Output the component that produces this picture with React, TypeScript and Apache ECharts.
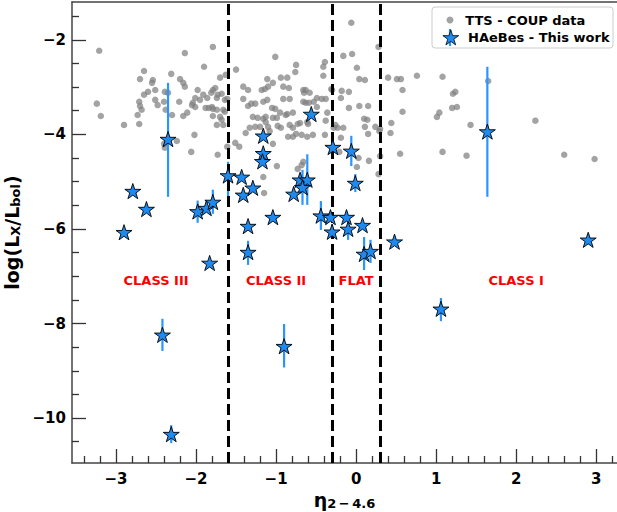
import React, { useEffect, useRef } from "react";
import * as echarts from "echarts";

const X_MIN = -3.55;
const X_MAX = 3.26;
const Y_MIN = -10.95;
const Y_MAX = -1.2;

const xMajorTicks = [-3, -2, -1, 0, 1, 2, 3];
const xMinorTicks = [-3.4, -3.2, -2.8, -2.6, -2.4, -2.2, -1.8, -1.6, -1.4, -1.2, -0.8, -0.6, -0.4, -0.2, 0.2, 0.4, 0.6, 0.8, 1.2, 1.4, 1.6, 1.8, 2.2, 2.4, 2.6, 2.8, 3.2];
const yMajorTicks = [-10, -8, -6, -4, -2];
const yMinorTicks = [-10.5, -9.5, -9, -8.5, -7.5, -7, -6.5, -5.5, -5, -4.5, -3.5, -3, -2.5, -1.5];

const classBoundaries = [-1.6, -0.3, 0.3];
const classNames = ["CLASS III", "CLASS II", "FLAT", "CLASS I"];
const classX = [-2.5, -1.0, 0.0, 2.0];
const classY = [-7.1, -7.1, -7.1, -7.1];

// TTS - COUP data (eta, log Lx/Lbol)
const ttsPoints: [number, number][] = [
  [-3.21, -2.23], [-3.24, -3.35], [-3.19, -3.61], [-2.90, -3.80], [-2.65, -2.66], [-2.70, -2.83], [-2.54, -2.85], [-2.55, -2.91],
  [-2.60, -3.10], [-2.65, -3.16], [-2.51, -3.06], [-2.71, -3.31], [-2.70, -3.40], [-2.51, -3.27], [-2.48, -3.38], [-2.68, -3.48],
  [-2.73, -3.59], [-2.71, -3.78], [-2.39, -3.10], [-2.35, -3.12], [-2.40, -3.31], [-2.38, -3.48], [-2.30, -3.59], [-2.31, -2.72],
  [-2.20, -2.83], [-2.16, -2.91], [-2.14, -2.99], [-2.21, -3.31], [-2.14, -2.28], [-1.98, -3.06], [-2.01, -3.42], [-2.05, -3.38],
  [-1.95, -3.27], [-1.91, -3.16], [-2.16, -3.61], [-2.02, -4.01], [-2.06, -4.37], [-2.39, -4.28], [-2.40, -4.20], [-2.24, -4.14],
  [-1.79, -2.15], [-1.90, -2.57], [-1.79, -3.06], [-1.76, -3.02], [-1.70, -2.80], [-1.73, -3.16], [-1.68, -3.14], [-1.86, -3.23],
  [-1.88, -3.44], [-1.84, -3.44], [-1.79, -3.46], [-1.74, -3.48], [-1.70, -3.63], [-1.68, -3.69], [-1.74, -3.80], [-1.73, -4.43],
  [-1.61, -4.26], [-1.61, -3.25], [-1.63, -2.74], [-1.50, -2.63], [-1.51, -4.18], [-1.46, -4.26], [-1.81, -3.12], [-2.01, -3.23],
  [-2.04, -3.33], [-1.74, -3.23], [-1.64, -3.27], [-2.11, -3.54], [-1.80, -3.42], [-1.66, -3.48], [-1.64, -3.52], [-1.79, -3.61],
  [-1.66, -3.80],
  [-1.41, -2.99], [-1.35, -3.06], [-1.41, -3.25], [-1.35, -3.40], [-1.31, -3.35], [-1.26, -3.35], [-1.38, -3.97], [-1.33, -3.86],
  [-1.29, -3.63], [-1.26, -3.84], [-1.23, -3.65], [-1.16, -3.67], [-1.13, -3.63], [-1.18, -3.06], [-1.14, -3.04], [-1.10, -2.99],
  [-1.16, -3.31], [-1.11, -3.27], [-1.01, -2.36], [-1.04, -2.91], [-1.11, -2.83], [-0.94, -2.80], [-0.86, -2.80], [-0.91, -2.99],
  [-0.84, -3.02], [-0.91, -3.25], [-0.83, -3.25], [-1.05, -3.44], [-1.01, -3.46], [-1.04, -3.65], [-0.99, -3.65], [-1.10, -3.84],
  [-1.08, -3.93], [-1.04, -4.20], [-0.99, -4.67], [-1.16, -4.90], [-1.15, -5.24], [-0.98, -3.82], [-0.94, -3.86], [-0.88, -3.59],
  [-0.79, -3.54], [-0.83, -3.80], [-0.79, -3.86], [-0.79, -4.05], [-0.75, -3.99], [-0.75, -2.53], [-0.76, -2.68], [-0.66, -3.06],
  [-0.63, -3.06], [-0.65, -3.12], [-0.66, -3.31], [-0.63, -3.33], [-0.61, -4.05], [-0.68, -4.01], [-0.66, -4.58], [-0.68, -4.65],
  [-0.61, -3.74], [-1.20, -3.84], [-1.13, -3.74], [-0.85, -4.05], [-0.95, -3.54], [-0.86, -3.57], [-0.73, -4.73], [-0.73, -3.78],
  [-0.58, -3.12], [-0.49, -3.23], [-0.53, -3.31], [-0.43, -3.25], [-0.38, -3.25], [-0.59, -3.33], [-0.49, -3.42], [-0.38, -3.71],
  [-0.28, -3.86], [-0.23, -3.86], [-0.16, -3.86], [-0.39, -4.01], [-0.54, -4.01], [-0.19, -4.07], [-0.21, -4.37], [-0.31, -3.04],
  [-0.60, -3.78], [-0.36, -3.54], [-0.70, -3.76], [-0.26, -3.80],
  [-0.06, -1.64], [0.28, -2.15], [-0.16, -2.34], [-0.05, -2.30], [-0.39, -2.47], [-0.41, -2.57], [0.01, -2.59], [-0.41, -2.76],
  [0.04, -2.83], [0.11, -2.85], [0.40, -2.80], [0.51, -2.83], [0.56, -2.83], [0.76, -2.76], [1.08, -2.78], [1.65, -2.87],
  [1.21, -3.14], [1.24, -3.10], [0.58, -3.06], [1.20, -3.44], [1.26, -3.42], [1.01, -3.63], [1.04, -3.54], [0.58, -3.52],
  [1.43, -3.80], [2.24, -3.71], [2.60, -4.43], [2.98, -4.52], [1.38, -4.45], [1.08, -4.37], [0.55, -4.41], [0.44, -3.76],
  [0.43, -3.97], [0.29, -3.93], [0.24, -3.84], [0.30, -4.46], [0.28, -4.84], [0.16, -4.56], [0.03, -4.50], [0.01, -4.69],
  [0.15, -3.99], [0.11, -3.84], [0.10, -3.67], [-0.09, -3.44], [0.04, -3.40], [0.15, -3.40], [-0.18, -3.08], [-0.09, -3.10],
  [-0.19, -3.23], [-0.30, -3.06], [0.30, -3.88], [0.14, -3.69],
];

// HAeBes - This work
const starX = [-2.35, -2.90, -2.79, -2.62, -1.98, -1.87, -1.79, -1.60, -1.43, -1.41, -1.29, -1.35, -1.35, -1.16, -1.16, -1.17, -1.04, -1.83, -2.42, -2.31, -0.90, -0.56, -0.29, -0.06, -0.01, -0.70, -0.61, -0.67, -0.78, -0.44, -0.32, -0.30, -0.12, -0.10, 0.08, 0.10, 0.18, 0.48, 1.06, 1.64, 2.90];
const starY = [-4.10, -6.07, -5.20, -5.58, -5.63, -5.56, -5.43, -4.87, -4.90, -5.28, -5.13, -5.94, -6.49, -4.03, -4.40, -4.57, -5.75, -6.72, -8.24, -10.34, -8.48, -3.57, -4.27, -4.35, -5.03, -4.96, -4.96, -5.12, -5.26, -5.72, -5.75, -6.06, -5.75, -6.00, -5.92, -6.53, -6.47, -6.27, -7.69, -3.94, -6.23];
const errLow: (number | null)[] = [-5.32, null, null, null, -5.87, null, -5.68, -5.32, null, null, null, null, -6.76, null, null, null, null, null, -8.58, -10.53, -8.93, null, -4.43, -4.67, -5.22, null, -5.49, -5.49, null, -6.02, null, -6.20, null, -6.23, null, -6.87, -6.72, null, -7.95, -5.32, -6.33];
const errHigh: (number | null)[] = [-2.91, null, null, null, -5.40, null, -5.17, -4.58, null, null, null, null, -6.25, null, null, null, null, null, -7.90, -10.15, -8.01, null, -4.12, -4.03, -4.84, null, -4.42, -4.75, null, -5.41, null, -5.90, null, -5.87, null, -6.17, -6.23, null, -7.46, -2.57, -6.12];

const STAR_PATH = "path://M0,-10L2.245,-3.09L9.511,-3.09L3.633,1.18L5.878,8.09L0,3.82L-5.878,8.09L-3.633,1.18L-9.511,-3.09L-2.245,-3.09Z";
const FONT = "DejaVu Sans";
const STAR_COLOR = "#1e8af0";
const ERR_COLOR = "#2a95ff";

const fmt = (v: number) => (v < 0 ? "\u2212" + Math.abs(v) : String(v));

export default function App() {
  const ref = useRef<HTMLDivElement>(null);
  useEffect(() => {
    if (!ref.current) return;
    const chart = echarts.init(ref.current, null, { renderer: "svg" });
    const errData = starX
      .map((x, i) => [x, errLow[i], errHigh[i]])
      .filter((d) => d[1] !== null && d[2] !== null);
    const starData = starX.map((x, i) => [x, starY[i]]);
    const classData = classX.map((x, i) => ({ value: [x, classY[i]], name: classNames[i] }));
    const axisLineStyle = { color: "#444", width: 1.5 };
    const tickStyle = { color: "#333", width: 1.3 };
    const nameRich = {
      a: { fontSize: 19, fontWeight: "bold", fontFamily: FONT, color: "#000", verticalAlign: "bottom", lineHeight: 22 },
      sub: { fontSize: 13, fontWeight: "bold", fontFamily: FONT, color: "#000", verticalAlign: "bottom", lineHeight: 16, padding: [6, 0, 0, 0] },
    };
    const legendText = { fontFamily: FONT, fontWeight: "bold", fontSize: 13, color: "#000" };
    const option: any = {
      animation: false,
      backgroundColor: "#fff",
      textStyle: { fontFamily: FONT },
      grid: { left: 72, top: 2, right: 0, bottom: 49, containLabel: false, outerBoundsMode: "none" },
      graphic: [
        {
          type: "rect",
          z: 50,
          shape: { x: 432, y: 7, width: 181, height: 41, r: 3 },
          style: { fill: "rgba(255,255,255,0.85)", stroke: "#cccccc", lineWidth: 1 },
        },
        {
          type: "line",
          z: 55,
          shape: { x1: 450, y1: 29, x2: 450, y2: 46 },
          style: { stroke: ERR_COLOR, lineWidth: 2.2 },
        },
      ],
      legend: [
        {
          data: ["TTS - COUP data"],
          left: 446.5,
          top: 13.5,
          padding: 0,
          itemWidth: 20.5,
          itemHeight: 7,
          z: 60,
          textStyle: legendText,
        },
        {
          data: [
            {
              name: "HAeBes - This work",
              itemStyle: { color: STAR_COLOR, borderColor: "#000", borderWidth: 0.8, opacity: 1 },
            },
          ],
          left: 442.5,
          top: 29.5,
          padding: 0,
          itemWidth: 24.5,
          itemHeight: 15,
          z: 60,
          textStyle: legendText,
        },
      ],
      xAxis: [
        {
          type: "value",
          min: X_MIN,
          max: X_MAX,
          position: "bottom",
          axisLine: { show: true, onZero: false, lineStyle: axisLineStyle },
          axisTick: { show: true, inside: true, length: 14, customValues: xMajorTicks, lineStyle: tickStyle },
          axisLabel: { customValues: xMajorTicks, formatter: fmt, fontSize: 15, fontWeight: "bold", color: "#000", margin: 8, fontFamily: FONT },
          splitLine: { show: false },
          name: "{a|\u03b7}{sub|2\u2009\u2212\u20094.6}",
          nameLocation: "middle",
          nameGap: 22,
          nameTextStyle: { rich: nameRich },
        },
        {
          type: "value",
          min: X_MIN,
          max: X_MAX,
          position: "bottom",
          axisLine: { show: false, onZero: false },
          axisTick: { show: true, inside: true, length: 7, customValues: xMinorTicks, lineStyle: tickStyle },
          axisLabel: { show: false },
          splitLine: { show: false },
        },
        {
          type: "value",
          min: X_MIN,
          max: X_MAX,
          position: "top",
          axisLine: { show: true, onZero: false, lineStyle: axisLineStyle },
          axisTick: { show: false },
          axisLabel: { show: false },
          splitLine: { show: false },
        },
      ],
      yAxis: [
        {
          type: "value",
          min: Y_MIN,
          max: Y_MAX,
          position: "left",
          axisLine: { show: true, onZero: false, lineStyle: axisLineStyle },
          axisTick: { show: true, inside: true, length: 14, customValues: yMajorTicks, lineStyle: tickStyle },
          axisLabel: { customValues: yMajorTicks, formatter: fmt, fontSize: 15, fontWeight: "bold", color: "#000", margin: 6, fontFamily: FONT },
          splitLine: { show: false },
          name: "{a|log(L}{sub|X}{a|/L}{sub|bol}{a|)}",
          nameLocation: "middle",
          nameGap: 44,
          nameTextStyle: { rich: nameRich },
        },
        {
          type: "value",
          min: Y_MIN,
          max: Y_MAX,
          position: "left",
          axisLine: { show: false, onZero: false },
          axisTick: { show: true, inside: true, length: 7, customValues: yMinorTicks, lineStyle: tickStyle },
          axisLabel: { show: false },
          splitLine: { show: false },
        },
      ],
      series: [
        {
          name: "TTS - COUP data",
          type: "scatter",
          xAxisIndex: 0,
          yAxisIndex: 0,
          symbol: "circle",
          symbolSize: 6.5,
          itemStyle: { color: "#808080", opacity: 0.72 },
          data: ttsPoints,
          z: 2,
          silent: true,
        },
        {
          name: "boundaries",
          type: "scatter",
          xAxisIndex: 0,
          yAxisIndex: 0,
          data: [],
          z: 3,
          markLine: {
            silent: true,
            symbol: "none",
            label: { show: false },
            lineStyle: { color: "#000", width: 3, type: [11, 5], opacity: 1 },
            data: classBoundaries.map((v) => ({ xAxis: v })),
          },
        },
        {
          name: "errors",
          type: "custom",
          xAxisIndex: 0,
          yAxisIndex: 0,
          z: 4,
          silent: true,
          encode: { x: 0, y: [1, 2] },
          data: errData,
          renderItem: (params: any, api: any) => {
            const x = api.value(0);
            const p1 = api.coord([x, api.value(1)]);
            const p2 = api.coord([x, api.value(2)]);
            return {
              type: "line",
              shape: { x1: p1[0], y1: p1[1], x2: p2[0], y2: p2[1] },
              style: { stroke: ERR_COLOR, lineWidth: 2.2 },
            };
          },
        },
        {
          name: "HAeBes - This work",
          type: "scatter",
          xAxisIndex: 0,
          yAxisIndex: 0,
          symbol: STAR_PATH,
          symbolKeepAspect: true,
          symbolSize: 16,
          itemStyle: { color: STAR_COLOR, borderColor: "#000", borderWidth: 0.9, opacity: 1 },
          data: starData,
          z: 5,
          silent: true,
        },
        {
          name: "classes",
          type: "scatter",
          xAxisIndex: 0,
          yAxisIndex: 0,
          symbolSize: 0,
          z: 6,
          silent: true,
          itemStyle: { opacity: 1 },
          data: classData,
          label: {
            show: true,
            position: "inside",
            formatter: (p: any) => p.name,
            color: "#ff0000",
            fontWeight: "bold",
            fontSize: 13,
            fontFamily: FONT,
          },
        },
      ],
    };
    chart.setOption(option);
    return () => chart.dispose();
  }, []);
  return <div ref={ref} style={{ width: 617, height: 512, position: "absolute", left: 0, top: 0 }} />;
}
